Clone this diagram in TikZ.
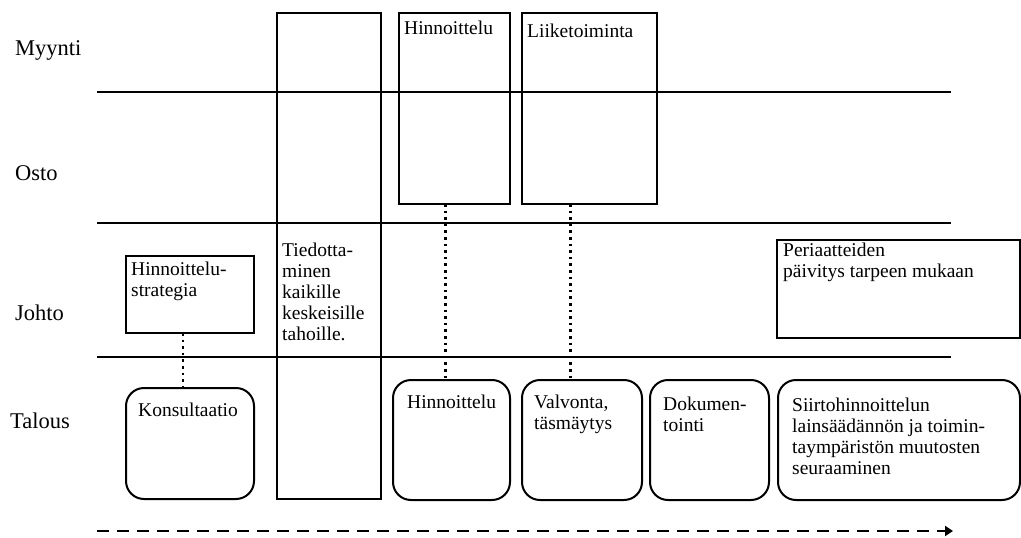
\documentclass[tikz,border=0pt]{standalone}
\usepackage{fontspec}
\setmainfont{Liberation Serif}
\usetikzlibrary{calc,arrows.meta}

\begin{document}
\begin{tikzpicture}[x=1pt,y=-1pt,
  frame/.style={draw, line width=2pt, inner sep=0pt, outer sep=0pt, anchor=north west},
  rframe/.style={frame, rounded corners=18pt},
  txt/.style={anchor=north west, inner sep=0pt, align=left,
              font=\fontsize{19.5}{21}\selectfont},
  lane/.style={anchor=base west, inner sep=0pt, font=\fontsize{22.5}{24}\selectfont},
  sep/.style={line width=2.6pt},
  dotline/.style={line width=2.6pt, dash pattern=on 2.6pt off 4pt},
]
\useasboundingbox (0,0) rectangle (1021,538);

% lane names
\node[lane] (lmyynti) at (15,55)  {Myynti};
\node[lane] (losto)   at (15,180) {Osto};
\node[lane] (ljohto)  at (15,320) {Johto};
\node[lane] (ltalous) at (10,428) {Talous};

% lane separators
\coordinate (s1a) at (97,92);   \coordinate (s1b) at (951,92);
\coordinate (s2a) at (97,223);  \coordinate (s2b) at (951,223);
\coordinate (s3a) at (97,357);  \coordinate (s3b) at (951,357);
\draw[sep] (s1a) -- (s1b);
\draw[sep] (s2a) -- (s2b);
\draw[sep] (s3a) -- (s3b);

% tall communication column
\node[frame, minimum width=104pt, minimum height=486pt] (tied) at (277,13) {};
\node[txt] (tiedt) at (282,243) {Tiedotta-\\minen\\kaikille\\keskeisille\\tahoille.};

% sales / purchasing boxes
\node[frame, minimum width=111pt, minimum height=191pt] (hinTop) at (399,13) {};
\node[txt] at (404,21) {Hinnoittelu};
\node[frame, minimum width=135pt, minimum height=191pt] (liike) at (522,13) {};
\node[txt] at (527,24) {Liiketoiminta};

% management boxes
\node[frame, minimum width=128pt, minimum height=77pt] (strat) at (126,256) {};
\node[txt] at (131,262) {Hinnoittelu-\\strategia};
\node[frame, minimum width=243pt, minimum height=98pt] (peri) at (777,240) {};
\node[txt] at (783,243) {Periaatteiden\\päivitys tarpeen mukaan};

% finance boxes
\node[rframe, minimum width=128pt, minimum height=111pt] (kons) at (126,388) {};
\node[txt] at (138,403) {Konsultaatio};
\node[rframe, minimum width=117pt, minimum height=120pt] (hinBot) at (393,380) {};
\node[txt] at (407,395) {Hinnoittelu};
\node[rframe, minimum width=120pt, minimum height=120pt] (valv) at (522,380) {};
\node[txt] at (534,395) {Valvonta,\\täsmäytys};
\node[rframe, minimum width=119pt, minimum height=120pt] (doku) at (650,380) {};
\node[txt] at (663,397) {Dokumen-\\tointi};
\node[rframe, minimum width=242pt, minimum height=120pt] (siirto) at (778,380) {};
\node[txt] at (792,398) {Siirtohinnoittelun\\lainsäädännön ja toimin-\\taympäristön muutosten\\seuraaminen};

% dotted links between lanes
\coordinate (d1) at ($(strat.south west)!0.445!(strat.south east)$);
\draw[dotline] (d1) -- (d1 |- kons.north);
\coordinate (d2) at ($(hinTop.south west)!0.42!(hinTop.south east)$);
\draw[dotline] (d2) -- (d2 |- hinBot.north);
\coordinate (d3) at ($(liike.south west)!0.36!(liike.south east)$);
\draw[dotline] (d3) -- (d3 |- valv.north);

% time axis
\coordinate (t0) at (97,531);
\coordinate (t1) at (953,531);
\draw[line width=2.4pt, dash pattern=on 12pt off 8pt,
      -{Triangle[length=8pt,width=10pt]}] (t0) -- (t1);
\end{tikzpicture}
\end{document}
